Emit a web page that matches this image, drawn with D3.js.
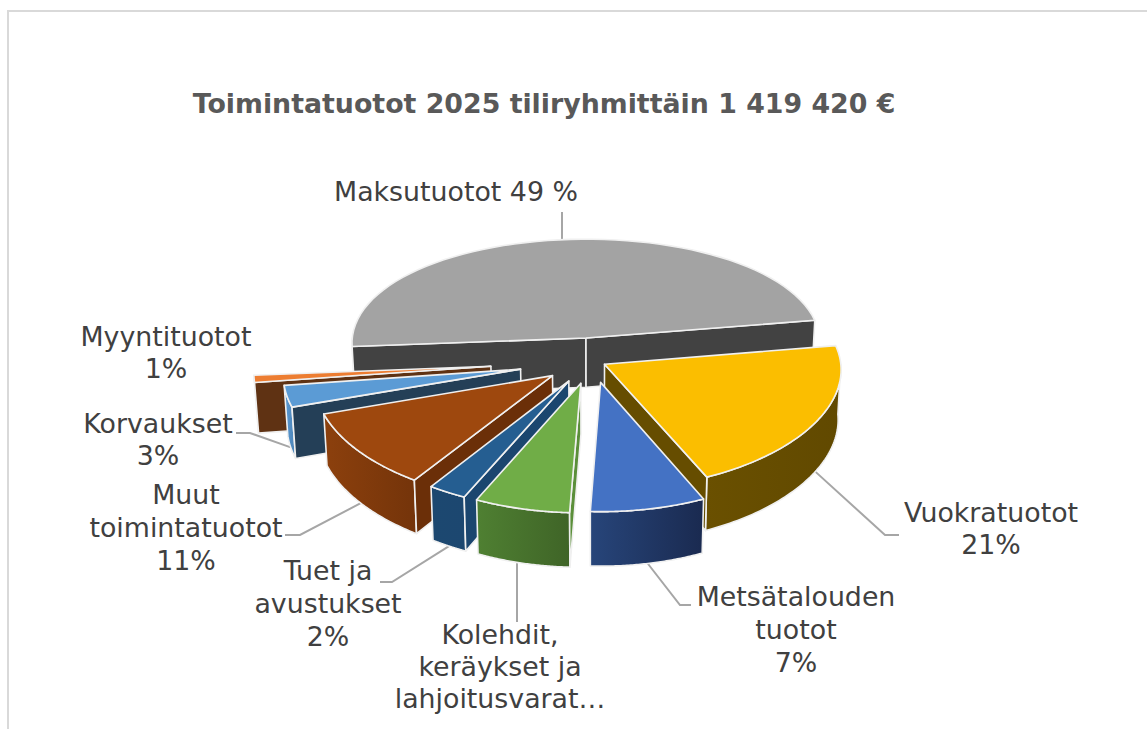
<!DOCTYPE html>
<html lang="en">
<head>
<meta charset="utf-8">
<title>Toimintatuotot 2025</title>
<script src="https://d3js.org/d3.v7.min.js"></script>
<style>
  body { margin: 0; background: #fff; }
  svg { display: block; }
  text { font-family: "DejaVu Sans", Verdana, sans-serif; }
  .label { font-size: 26.8px; fill: #404040; text-anchor: middle; }
  .title { font-size: 26.8px; font-weight: bold; fill: #595959; text-anchor: middle; }
  .leader { fill: none; stroke: #a6a6a6; stroke-width: 2px; }
  .face { stroke: #f0f0f0; stroke-width: 1.6px; stroke-linejoin: round; }
</style>
</head>
<body>
<div id="main"></div>
<script type="text/javascript">
    const titleText = 'Toimintatuotot 2025 tiliryhmittäin 1 419 420 €';
    const categories = ['Vuokratuotot', 'Metsätalouden tuotot', 'Kolehdit, keräykset ja lahjoitusvarat', 'Tuet ja avustukset',
        'Muut toimintatuotot', 'Korvaukset', 'Myyntituotot', 'Maksutuotot'];
    const values = [21, 7.49, 6.2, 2.49, 10.5, 3, 1, 48.82];
    const labelLines = [
        ['Vuokratuotot', '21%'],
        ['Metsätalouden', 'tuotot', '7%'],
        ['Kolehdit,', 'keräykset ja', 'lahjoitusvarat…'],
        ['Tuet ja', 'avustukset', '2%'],
        ['Muut', 'toimintatuotot', '11%'],
        ['Korvaukset', '3%'],
        ['Myyntituotot', '1%'],
        ['Maksutuotot 49 %']
    ];
    // how far each slice is pulled out, as share of the radius
    const explode = [0.06, 0.19, 0.20, 0.20, 0.21, 0.31, 0.43, 0.21];

    const topColors = ['#FBBE00', '#4472C4', '#70AD47', '#255E91', '#9E480E', '#5B9BD5', '#ED7D31', '#A3A3A3'];
    const sideColors = ['#664D00', '#1E3560', '#5B8F3A', '#1B466F', '#6B2F08', '#243F57', '#5F3213', '#424242'];
    const rimFrom = ['#6A5000', '#27457A', '#4F8032', '#1C4870', '#8C400D', '#5B9BD5', '#5F3213', '#424242'];
    const rimTo = ['#614900', '#1A2A50', '#3F6427', '#1C4770', '#74340A', '#4A82B5', '#5F3213', '#424242'];

    // back to front
    const drawOrder = [7, 6, 5, 4, 0, 3, 2, 1];

    const width = 1147;
    const height = 729;
    const cx = 592;
    const cy = 361;
    const radius = 236;
    const radiusY = 112.5;
    const perspectiveX = 0.046;
    const perspectiveY = 0.096;
    const thickness = 50;
    const firstAngle = 80.4 * Math.PI / 180;

    const labelX = [991, 796, 500, 328, 186, 158, 166, 456];
    const labelY = [522, 606, 644, 580, 504, 433, 346, 201];
    const lineGap = [32, 33, 32, 33, 33, 32, 32, 0];
    // elbow of each leader line, null means none
    const elbows = [[[899, 535], [885, 535]], [[691, 605], [680, 605]], [[517, 622]], [[380, 582], [392, 582]],
        [[285, 535], [300, 535]], [[236, 433], [250, 433]], null, [[562, 212]]];

    const svg = d3.select('#main').append('svg')
        .attr('width', width)
        .attr('height', height);

    svg.append('rect')
        .attr('x', 8).attr('y', 11)
        .attr('width', width + 20).attr('height', height + 20)
        .attr('fill', '#fff')
        .attr('stroke', '#d9d9d9')
        .attr('stroke-width', 2);

    svg.append('text')
        .attr('class', 'title')
        .attr('x', 544).attr('y', 113)
        .text(titleText);

    const slices = d3.pie().sort(null)
        .startAngle(firstAngle)
        .endAngle(firstAngle + 2 * Math.PI)(values);

    // flat pie coordinates to the screen, z = 0 top, z = 1 bottom
    const project = (i, angle, r, z) => {
        const mid = (slices[i].startAngle + slices[i].endAngle) / 2;
        const px = explode[i] * Math.sin(mid) + r * Math.sin(angle);
        const py = -explode[i] * Math.cos(mid) - r * Math.cos(angle);
        const wx = 1 - perspectiveX * py + 0.012 * z;
        const wy = 1 - perspectiveY * py;
        return [cx + radius * px / wx, cy + radiusY * py / wy + thickness * z / (1 - 0.07 * py)];
    };

    const arcPoints = (i, a0, a1, z) => d3.range(0, 61).map(k => project(i, a0 + (a1 - a0) * k / 60, 1, z));
    const line = d3.line();
    const closed = pts => line(pts) + 'Z';

    const defs = svg.append('defs');
    values.forEach((_, i) => {
        const g = defs.append('linearGradient').attr('id', 'rim' + i);
        g.append('stop').attr('offset', '0%').attr('stop-color', rimFrom[i]);
        g.append('stop').attr('offset', '100%').attr('stop-color', rimTo[i]);
    });

    // leader lines go under the pie
    slices.forEach((s, i) => {
        if (!elbows[i]) return;
        const mid = (s.startAngle + s.endAngle) / 2;
        const z = i === 7 ? 0 : 1;
        const end = project(i, mid, 1, z);
        const pts = elbows[i].concat([i === 7 || i === 2 ? [elbows[i][0][0], end[1]] : end]);
        svg.append('path').attr('class', 'leader').attr('d', line(pts));
    });

    drawOrder.forEach(i => {
        const s = slices[i];
        const a0 = s.startAngle;
        const a1 = s.endAngle;
        const mid = (a0 + a1) / 2;
        const g = svg.append('g');

        // outer wall, only the part facing the viewer
        const lo = Math.max(a0, Math.PI / 2);
        const hi = Math.min(a1, 3 * Math.PI / 2);
        if (hi > lo) {
            g.append('path')
                .attr('class', 'face')
                .attr('fill', `url(#rim${i})`)
                .attr('d', closed(arcPoints(i, lo, hi, 0).concat(arcPoints(i, hi, lo, 1))));
        }

        // radial walls, skip the ones that turn away
        const apex = project(i, 0, 0, 0);
        const inner = project(i, mid, 1, 0);
        [a0, a1].forEach(a => {
            const corner = project(i, a, 1, 0);
            const dx = corner[0] - apex[0];
            const dy = corner[1] - apex[1];
            const side = dx * (inner[1] - apex[1]) - dy * (inner[0] - apex[0]);
            if (side * dx >= 0) return;
            g.append('path')
                .attr('class', 'face')
                .attr('fill', sideColors[i])
                .attr('d', closed([apex, corner, project(i, a, 1, 1), project(i, 0, 0, 1)]));
        });

        g.append('path')
            .attr('class', 'face')
            .attr('fill', topColors[i])
            .attr('d', closed([apex].concat(arcPoints(i, a0, a1, 0))));
    });

    labelLines.forEach((lines, i) => {
        const t = svg.append('text')
            .attr('class', 'label')
            .attr('aria-label', categories[i]);
        lines.forEach((l, k) => {
            t.append('tspan')
                .attr('x', labelX[i])
                .attr('y', labelY[i] + k * lineGap[i])
                .text(l);
        });
    });
</script>
</body>
</html>
